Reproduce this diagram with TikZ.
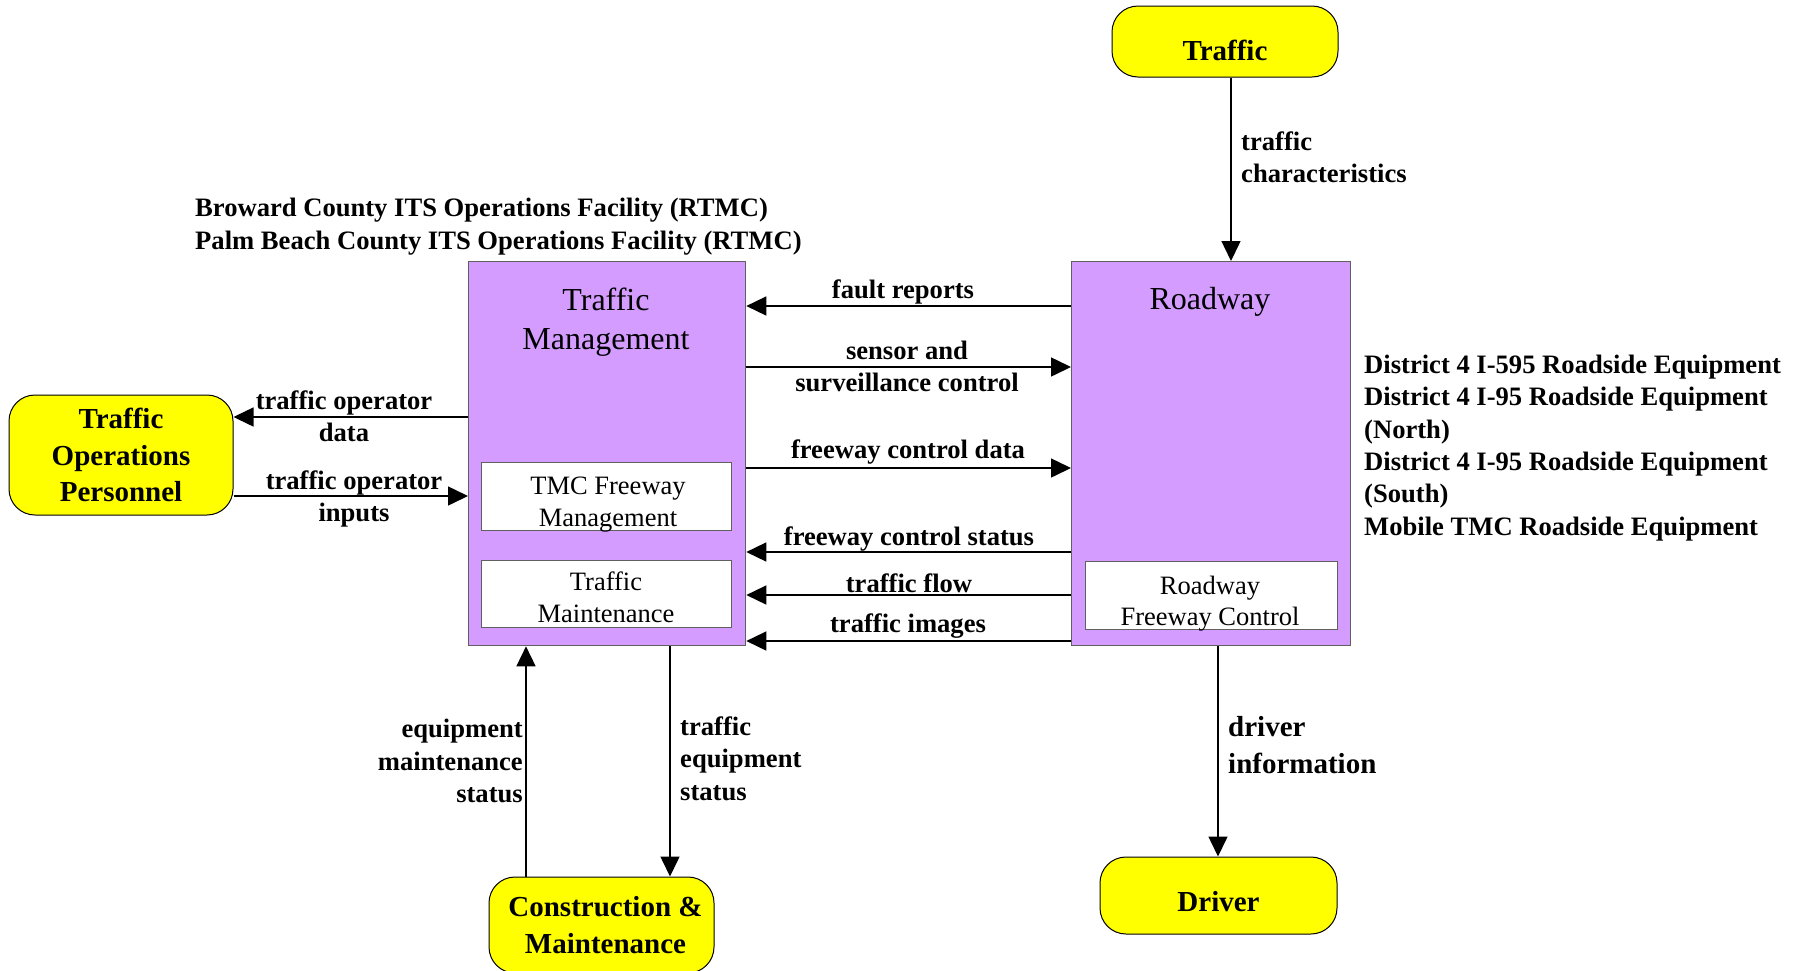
\documentclass[tikz,border=0pt]{standalone}
\usepackage{fontspec}
\setmainfont{Liberation Serif}
\usetikzlibrary{arrows.meta}
\definecolor{ylw}{HTML}{FFFF00}
\definecolor{prp}{HTML}{D49CFF}
\definecolor{bordergray}{HTML}{606060}
\tikzset{
 ext/.style={draw=black, line width=1pt, fill=ylw, rounded corners=26pt, font=\fontsize{29}{36.5}\selectfont\bfseries, align=center, inner sep=0pt},
 sys/.style={draw=bordergray, line width=1.3pt, fill=prp, inner sep=0pt, anchor=north west},
 sub/.style={draw=bordergray, line width=1.2pt, fill=white, inner sep=0pt, anchor=north west},
 ttl/.style={font=\fontsize{32}{39}\selectfont, align=center, inner sep=0pt},
 subttl/.style={font=\fontsize{26.5}{31.5}\selectfont, align=center, inner sep=0pt},
 lbl/.style={font=\fontsize{26.6}{32.3}\selectfont\bfseries, inner sep=0pt},
 biglbl/.style={font=\fontsize{29}{37}\selectfont\bfseries, inner sep=0pt},
 flow/.style={line width=1.5pt, -{Triangle[length=20pt,width=19pt]}},
}
\begin{document}
\begin{tikzpicture}[x=1pt,y=-1pt]
\useasboundingbox (0,0) rectangle (1802,970);
\fill[white] (0,0) rectangle (1802,970);

% external (yellow) nodes
\node[ext, minimum width=226pt, minimum height=71pt, text height=38pt, text depth=0pt] (traffic) at (1225,41.5) {Traffic};
\node[ext, minimum width=224pt, minimum height=120pt] (top) at (121,455) {Traffic\\Operations\\Personnel};
\node[ext, minimum width=225pt, minimum height=96pt] (cm) at (601.5,925) {\hspace*{8pt}Construction \&\\\hspace*{8pt}Maintenance};
\node[ext, minimum width=237pt, minimum height=77pt, text height=31pt, text depth=0pt] (driver) at (1218.5,895.5) {Driver};

% subsystems
\node[sys, minimum width=277pt, minimum height=384pt] (tm) at (468,261) {};
\node[sys, minimum width=279pt, minimum height=384pt] (rw) at (1071,261) {};
\node[sub, minimum width=250pt, minimum height=68pt] (tmcfm) at (481,462) {};
\node[sub, minimum width=250pt, minimum height=67pt] (tmaint) at (481,560) {};
\node[sub, minimum width=252pt, minimum height=68pt] (rfc) at (1085,561) {};

\node[ttl] (tmt) at (606,322) {Traffic\\Management};
\node[ttl] (rwt) at (1210,301.5) {Roadway};
\node[subttl] (tmcfmt) at (608,504.5) {TMC Freeway\\Management};
\node[subttl] (tmaintt) at (606,597.5) {Traffic\\Maintenance};
\node[subttl] (rfct) at (1210,603.5) {Roadway\\Freeway Control};

% flows
\draw[flow] (traffic.south -| 1231,0) -- (rw.north -| 1231,0);
\draw[flow] (rw.west |- 0,306) -- (tm.east |- 0,306);
\draw[flow] (tm.east |- 0,367) -- (rw.west |- 0,367);
\draw[flow] (tm.east |- 0,468) -- (rw.west |- 0,468);
\draw[flow] (rw.west |- 0,552) -- (tm.east |- 0,552);
\draw[flow] (rw.west |- 0,595) -- (tm.east |- 0,595);
\draw[flow] (rw.west |- 0,641) -- (tm.east |- 0,641);
\draw[flow] (tm.west |- 0,417) -- (top.east |- 0,417);
\draw[flow] (top.east |- 0,496) -- (tm.west |- 0,496);
\draw[flow] (cm.north -| 526,0) -- (tm.south -| 526,0);
\draw[flow] (tm.south -| 670,0) -- (cm.north -| 670,0);
\draw[flow] (rw.south -| 1218,0) -- (driver.north -| 1218,0);

% labels
\node[lbl, align=left, anchor=west] (l1) at (1241,157.5) {traffic\\characteristics};
\node[lbl] (l2) at (903,292) {fault reports};
\node[lbl, align=center] (l3) at (907,366.5) {sensor and\\surveillance control};
\node[lbl] (l4) at (908,451.5) {freeway control data};
\node[lbl] (l5) at (909,539) {freeway control status};
\node[lbl] (l6) at (909,583) {traffic flow};
\node[lbl] (l7) at (908,626) {traffic images};
\node[lbl, align=center] (l8) at (344,416) {traffic operator\\data};
\node[lbl, align=center] (l9) at (354,499) {traffic operator\\inputs};
\node[lbl, align=right, anchor=east] (l10) at (523,761) {equipment\\maintenance\\status};
\node[lbl, align=left, anchor=west] (l11) at (680,758.5) {traffic\\equipment\\status};
\node[biglbl, align=left, anchor=west] (l12) at (1228,745.5) {driver\\information};

\node[lbl, align=left, anchor=west] (hdr) at (195,226.5) {Broward County ITS Operations Facility (RTMC)\\Palm Beach County ITS Operations Facility (RTMC)};
\node[lbl, align=left, anchor=west] (rse) at (1364,448) {District 4 I-595 Roadside Equipment\\District 4 I-95 Roadside Equipment\\(North)\\District 4 I-95 Roadside Equipment\\(South)\\Mobile TMC Roadside Equipment};
\end{tikzpicture}
\end{document}
